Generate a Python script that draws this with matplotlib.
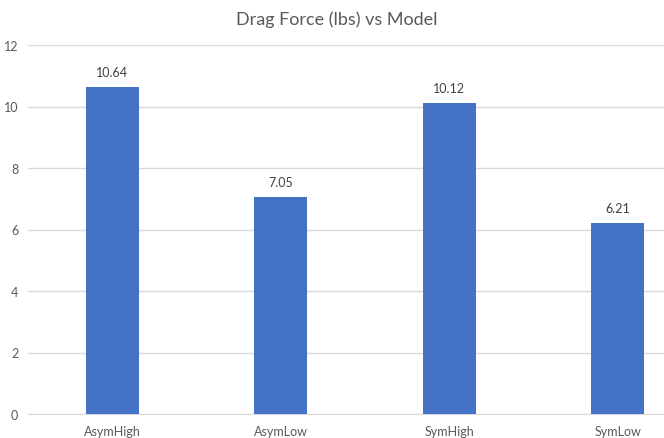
import matplotlib
matplotlib.use("Agg")
import matplotlib.pyplot as plt

models = ["AsymHigh", "AsymLow", "SymHigh", "SymLow"]
drag = [10.64, 7.05, 10.12, 6.21]
labels = ["10.64", "7.05", "10.12", "6.21"]

plt.rcParams['font.family'] = ['Lato', 'DejaVu Sans']

fig = plt.figure(figsize=(6.64, 4.39), dpi=100)
# plot area runs past the right edge, as in the cropped original
ax = fig.add_axes([28 / 664, 24 / 439, 674 / 664, 369 / 439])

x = range(len(models))
ax.bar(x, drag, width=0.315, color='#4472C4', zorder=3)
for i, v in enumerate(drag):
    ax.text(i, v + 0.3, labels[i], ha='center', va='bottom', fontsize=9, color='#404040')

ax.set_xlim(-0.5, 3.5)
ax.set_ylim(0, 12)
ax.set_yticks(range(0, 13, 2))
ax.set_xticks(list(x))
ax.set_xticklabels(models)
ax.yaxis.grid(True, color='#D9D9D9', linewidth=1, zorder=0)
for s in ['top', 'right', 'left']:
    ax.spines[s].set_visible(False)
ax.spines['bottom'].set_color('#D9D9D9')
ax.tick_params(axis='both', length=0, labelsize=9, labelcolor='#595959')
ax.tick_params(axis='x', pad=8)
ax.tick_params(axis='y', pad=7)

fig.text(337 / 664, 1 - 20 / 439, "Drag Force (lbs) vs Model", ha='center', va='center',
         fontsize=13, color='#595959')

fig.savefig("out.png", dpi=100)
